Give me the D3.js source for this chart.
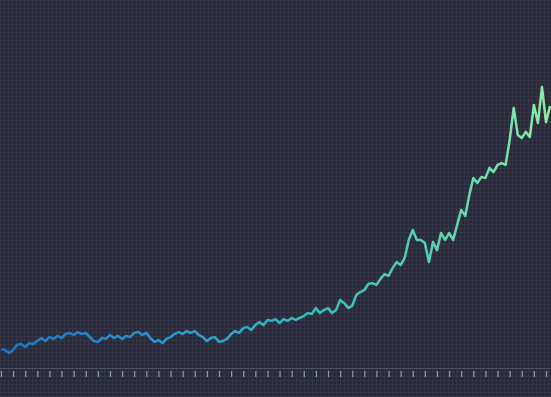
<!DOCTYPE html>
<html>
<head>
<meta charset="utf-8">
<script src="https://cdn.jsdelivr.net/npm/d3@7"></script>
<style>
  html, body { margin: 0; padding: 0; background: #2a2a37; }
  svg { display: block; }
</style>
</head>
<body>
<svg></svg>
<script>
var w = 551;
var h = 397;

// series values, 3 samples per axis tick
var values = [
  6.3, 6.0, 5.0, 6.0, 7.7, 8.0, 7.0, 8.3, 8.0, 9.0,
  10.0, 9.0, 10.3, 9.7, 10.7, 10.0, 11.3, 11.7, 11.0, 12.0,
  11.3, 11.7, 10.3, 9.0, 8.7, 10.0, 9.7, 11.0, 10.0, 10.7,
  9.7, 10.7, 10.3, 11.7, 12.0, 11.0, 11.7, 10.0, 8.7, 9.3,
  8.3, 9.7, 10.3, 11.3, 12.0, 11.3, 12.3, 11.7, 12.3, 11.0,
  10.3, 9.0, 10.0, 10.3, 8.7, 9.0, 9.7, 11.3, 12.3, 11.7,
  13.3, 13.7, 12.7, 14.3, 15.3, 14.3, 16.0, 15.7, 16.3, 15.0,
  16.3, 15.7, 16.7, 16.0, 16.7, 17.3, 18.3, 18.0, 20.0, 18.3,
  19.3, 20.0, 18.3, 19.3, 22.7, 21.7, 20.0, 20.7, 24.3, 25.3,
  26.0, 28.0, 28.3, 27.7, 29.7, 31.3, 30.7, 33.3, 35.3, 34.3,
  36.7, 42.7, 46.0, 42.7, 42.7, 41.7, 35.3, 42.0, 39.3, 45.0,
  42.7, 45.0, 42.7, 47.7, 52.7, 50.7, 57.7, 63.3, 61.7, 63.7,
  63.3, 66.7, 65.3, 67.7, 68.3, 67.7, 76.0, 86.7, 77.7, 76.7,
  78.7, 77.0, 87.7, 81.7, 93.7, 82.0, 87.3
];
var perTick = 3;
var tickCount = 45;

var svg = d3.select("svg")
    .attr("width", w)
    .attr("height", h);

var defs = svg.append("defs");

// fine background grid
var pattern = defs.append("pattern")
    .attr("id", "grid")
    .attr("width", 4)
    .attr("height", 4)
    .attr("patternUnits", "userSpaceOnUse");
pattern.append("rect")
    .attr("width", 4)
    .attr("height", 4)
    .attr("fill", "#2a2a37");
pattern.append("path")
    .attr("d", "M0,0.5H4M0.5,0V4")
    .attr("stroke", "#353548")
    .attr("stroke-width", 1);

svg.append("rect")
    .attr("width", w)
    .attr("height", h)
    .attr("fill", "url(#grid)");

// line colour runs from blue to green
var grad = defs.append("linearGradient")
    .attr("id", "lineGrad")
    .attr("gradientUnits", "userSpaceOnUse")
    .attr("x1", 0).attr("y1", 0)
    .attr("x2", w).attr("y2", 0);
grad.append("stop").attr("offset", "0%").attr("stop-color", "#1c74c8");
grad.append("stop").attr("offset", "30%").attr("stop-color", "#2899cb");
grad.append("stop").attr("offset", "55%").attr("stop-color", "#33bbc2");
grad.append("stop").attr("offset", "78%").attr("stop-color", "#55d3ae");
grad.append("stop").attr("offset", "100%").attr("stop-color", "#8eeaa2");

var xScale = d3.scaleLinear()
    .domain([0, tickCount * perTick])
    .range([1, 546]);

var yScale = d3.scaleLinear()
    .domain([0, 100])
    .range([368, 68]);

var line = d3.line()
    .x(function(d, i) { return xScale(i); })
    .y(function(d) { return yScale(d); })
    .curve(d3.curveLinear);

svg.append("path")
    .datum(values)
    .attr("d", line)
    .attr("fill", "none")
    .attr("stroke", "url(#lineGrad)")
    .attr("stroke-width", 2.5)
    .attr("stroke-linejoin", "round");

// x axis, ticks only
var xAxis = d3.axisBottom(xScale)
    .tickValues(d3.range(0, tickCount * perTick + 1, perTick))
    .tickSize(9)
    .tickSizeOuter(0)
    .tickFormat("");

var axisG = svg.append("g")
    .attr("transform", "translate(0," + 368 + ")")
    .call(xAxis);
axisG.select(".domain")
    .attr("stroke", "#4c5366")
    .attr("d", "M0,0.5H" + w);
axisG.selectAll(".tick line")
    .attr("stroke", "#8aa2b4")
    .attr("stroke-width", 1.2)
    .attr("y1", 3);
</script>
</body>
</html>
